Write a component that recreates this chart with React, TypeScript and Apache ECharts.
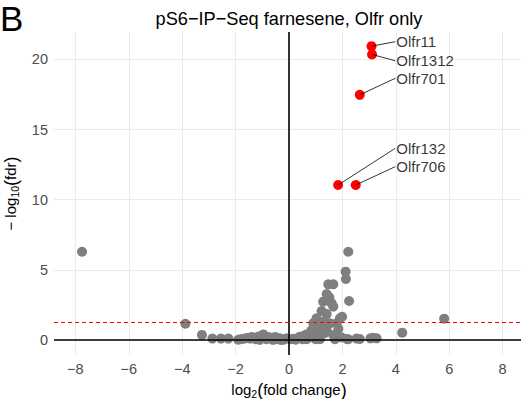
import React, { useEffect, useRef } from "react";
import * as echarts from "echarts";

const titleText = "pS6−IP−Seq farnesene, Olfr only";
const xTicks = [-8, -6, -4, -2, 0, 2, 4, 6, 8];
const yTicks = [0, 5, 10, 15, 20];
const fdrThreshold = 1.3;

// gray (not significant / other) genes: [log2FC, -log10 fdr]
const grayX = [
  -7.75, -3.88, -3.26, -2.87, -2.55, -2.27, -1.9, -1.83, -1.7, -1.58, -1.45, -1.39, -1.25, -1.15, -1.1,
  -1.05, -0.96, -0.85, -0.77, -0.65, -0.6, -0.52, -0.42, -0.34, -0.3, -0.2, -0.09,
  0.05, 0.16, 0.25, 0.35, 0.41, 0.5, 0.55, 0.66, 0.66, 0.75, 0.8, 0.85, 0.91, 0.95, 1.0, 1.03, 1.03,
  1.1, 1.16, 1.16, 1.22, 1.28, 1.3, 1.35, 1.41, 1.41, 1.41, 1.47, 1.51, 1.53, 1.6, 1.66, 1.66, 1.66,
  1.72, 1.78, 1.85, 1.91, 1.95, 1.99, 2.12, 2.13, 2.16, 2.22, 2.25, 2.22, 2.53, 2.65, 3.05, 3.15, 3.28,
  4.24, 5.81,
];
const grayY = [
  6.29, 1.16, 0.36, 0.1, 0.1, 0.1, 0.02, 0.05, 0.08, 0.15, 0.1, 0.22, 0.05, 0.25, 0.01,
  0.12, 0.4, 0.05, 0.22, 0.1, 0.01, 0.22, 0.05, 0.12, 0.0, 0.02, 0.12,
  0.05, 0.08, 0.02, 0.15, 0.24, 0.05, 0.3, 0.4, 0.05, 0.2, 0.55, 0.71, 1.19, 0.9, 0.05, 1.55, 0.36,
  0.6, 0.9, 0.05, 2.07, 2.73, 1.3, 0.5, 1.85, 0.71, 3.28, 3.97, 3.04, 1.19, 2.61, 2.38, 3.97, 0.36,
  0.05, 1.19, 0.8, 1.55, 0.2, 1.66, 4.87, 4.35, 0.07, 6.29, 2.78, 0.05, 0.1, 0.07, 0.12, 0.16, 0.12,
  0.52, 1.52,
];

// highlighted olfactory receptors
const olfrNames = ["Olfr11", "Olfr1312", "Olfr701", "Olfr132", "Olfr706"];
const olfrX = [3.09, 3.11, 2.65, 1.84, 2.5];
const olfrY = [20.95, 20.36, 17.48, 11.05, 11.05];
// label anchor positions (data coords)
const labelX = [3.98, 3.98, 3.98, 3.98, 3.98];
const labelY = [21.27, 19.91, 18.66, 13.67, 12.36];

const FONT = "Liberation Sans, Arial, Helvetica, sans-serif";

const nameRich = {
  a: { fontSize: 15, color: "#000", fontFamily: FONT },
  p: { fontSize: 18, color: "#000", fontFamily: FONT },
  s: { fontSize: 10.5, color: "#000", fontFamily: FONT, padding: [9, 0, 0, 0] },
};

export default function App() {
  const ref = useRef<HTMLDivElement>(null);
  useEffect(() => {
    if (!ref.current) return;
    const chart = echarts.init(ref.current, undefined, { renderer: "svg" });
    const gray = grayX.map((x, i) => [x, grayY[i]]);
    const red = olfrX.map((x, i) => ({ name: olfrNames[i], value: [x, olfrY[i]] }));
    const anchors = labelX.map((x, i) => ({ name: olfrNames[i], value: [x, labelY[i]] }));
    const segments = olfrX.map((x, i) => [
      { coord: [x, olfrY[i]] },
      { coord: [labelX[i], labelY[i]] },
    ]);
    chart.setOption({
      animation: false,
      textStyle: { fontFamily: FONT },
      graphic: [
        {
          type: "text",
          left: 0,
          top: 1,
          style: { text: "B", fontSize: 35, fontFamily: FONT, fill: "#000" },
        },
        {
          type: "text",
          x: 289,
          y: 19,
          style: {
            text: titleText,
            fontSize: 18.2,
            fontFamily: FONT,
            fill: "#000",
            align: "center",
            verticalAlign: "middle",
          },
        },
      ],
      grid: {
        left: 54,
        top: 32,
        width: 470,
        height: 323,
        containLabel: false,
        outerBoundsMode: "none",
      },
      xAxis: {
        type: "value",
        min: -8.8,
        max: 8.8,
        axisLine: { show: false },
        axisTick: { show: false, customValues: xTicks },
        axisLabel: {
          customValues: xTicks,
          color: "#4d4d4d",
          fontSize: 14.5,
          margin: 6,
          fontFamily: FONT,
          formatter: (v: number) => (v < 0 ? "−" + Math.abs(v) : String(v)),
        },
        splitLine: { show: true, lineStyle: { color: "#ebebeb", width: 1 } },
        name: "{a|log}{s|2}{p|(}{a|fold change}{p|)}",
        nameLocation: "middle",
        nameGap: 21,
        nameTextStyle: { rich: nameRich },
      },
      yAxis: {
        type: "value",
        min: -1.07,
        max: 21.96,
        axisLine: { show: false },
        axisTick: { show: false, customValues: yTicks },
        axisLabel: {
          customValues: yTicks,
          color: "#4d4d4d",
          fontSize: 14.5,
          margin: 6,
          fontFamily: FONT,
        },
        splitLine: { show: true, lineStyle: { color: "#ebebeb", width: 1 } },
        name: "{a|− log}{s|10}{p|(}{a|fdr}{p|)}",
        nameLocation: "middle",
        nameGap: 29,
        nameTextStyle: { rich: nameRich },
      },
      series: [
        {
          type: "scatter",
          data: gray,
          symbolSize: 10,
          itemStyle: { color: "#7f7f7f", opacity: 1 },
          z: 2,
        },
        {
          type: "scatter",
          data: red,
          symbolSize: 10,
          itemStyle: { color: "#ff0000", opacity: 1 },
          z: 3,
        },
        {
          type: "scatter",
          data: [],
          z: 5,
          silent: true,
          markLine: {
            silent: true,
            symbol: "none",
            label: { show: false },
            data: [
              { yAxis: 0, lineStyle: { color: "#000", width: 1.6, type: "solid" } },
              { xAxis: 0, lineStyle: { color: "#000", width: 1.6, type: "solid" } },
              { yAxis: fdrThreshold, lineStyle: { color: "#ff0000", width: 1, type: [4, 3] } },
              ...segments.map((s) => [
                { ...s[0], lineStyle: { color: "#000", width: 0.8, type: "solid" } },
                s[1],
              ]),
            ],
          },
        },
        {
          type: "scatter",
          data: anchors,
          symbolSize: 0,
          z: 6,
          label: {
            show: true,
            position: "right",
            distance: 1,
            formatter: "{b}",
            color: "#000",
            fontSize: 15,
            fontFamily: FONT,
          },
        },
      ],
    });
    return () => chart.dispose();
  }, []);
  return (
    <div
      ref={ref}
      style={{ position: "fixed", left: 0, top: 0, width: 521, height: 399, background: "#fff" }}
    />
  );
}
